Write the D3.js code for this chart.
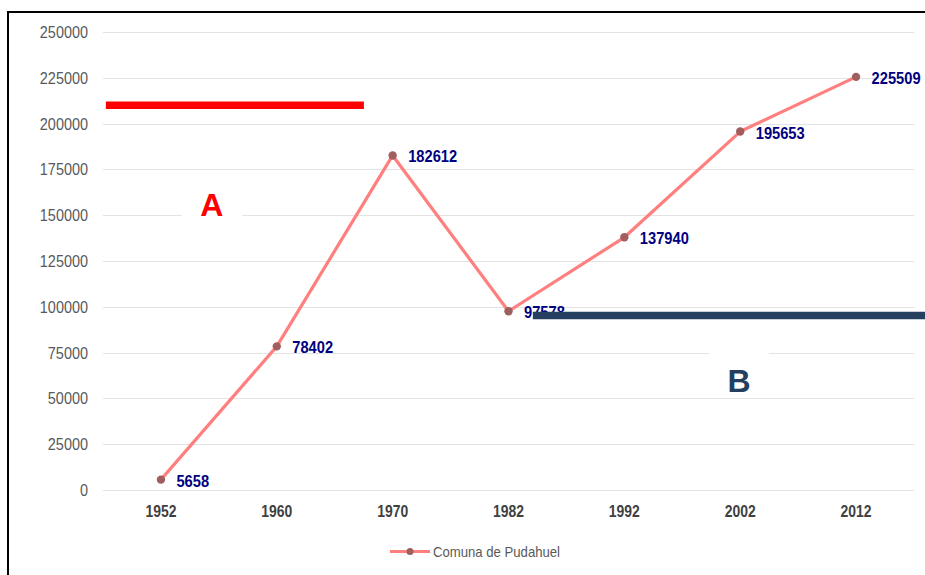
<!DOCTYPE html>
<html>
<head>
<meta charset="utf-8">
<script src="https://cdn.jsdelivr.net/npm/d3@7"></script>
<style>
  html, body { margin: 0; padding: 0; background: #fff; }
  svg { display: block; }
</style>
</head>
<body>
<svg id="chart" width="925" height="575"></svg>
<script>
// Census population of Comuna de Pudahuel
const years = ["1952", "1960", "1970", "1982", "1992", "2002", "2012"];
const population = [5658, 78402, 182612, 97578, 137940, 195653, 225509];
const yTicks = [0, 25000, 50000, 75000, 100000, 125000, 150000, 175000, 200000, 225000, 250000];
const seriesName = "Comuna de Pudahuel";

// Annotation bars: value level and span in category steps (0 = first census), plus letter position
const markA = { from: -0.475, to: 1.752, level: 210000, label: "A", labelAt: 0.44, labelLevel: 155000 };
const markB = { from: 3.21, to: 6.7, level: 95200, label: "B", labelAt: 4.99, labelLevel: 59000 };

(function draw() {
  const svg = d3.select("#chart");
  const W = 925, H = 575;
  const plotLeft = 103, plotRight = 914, plotTop = 32, plotBottom = 490;

  const x = d3.scaleBand().domain(years).range([plotLeft, plotRight]);
  const y = d3.scaleLinear().domain([0, 250000]).range([plotBottom, plotTop]);
  const cx = d => x(d) + x.bandwidth() / 2;

  // category-step scale for the annotation bars
  const stepPos = d3.scaleLinear().domain([0, 1]).range([cx(years[0]), cx(years[1])]);

  const sans = "'Liberation Sans', Arial, sans-serif";

  // frame
  svg.append("path")
    .attr("d", `M8,${H} V12 H${W}`)
    .attr("fill", "none").attr("stroke", "#000").attr("stroke-width", 2);

  // grid
  svg.append("g")
    .selectAll("line").data(yTicks).join("line")
    .attr("x1", plotLeft).attr("x2", plotRight)
    .attr("y1", d => Math.round(y(d)) + 0.5).attr("y2", d => Math.round(y(d)) + 0.5)
    .attr("stroke", "#e3e3e3").attr("stroke-width", 1);

  // y axis labels (condensed)
  const yAxis = d3.axisLeft(y).tickValues(yTicks).tickSize(0).tickPadding(0).tickFormat(d3.format("d"));
  svg.append("g").attr("transform", `translate(${plotLeft - 15},0)`).call(yAxis)
    .call(g => g.select(".domain").remove())
    .call(g => g.selectAll("text").attr("fill", "#595959").attr("font-family", sans)
      .attr("font-size", 17).attr("transform", "scale(0.85,1)"));

  // x axis labels (condensed, bold)
  const xAxis = d3.axisBottom(x).tickSize(0).tickPadding(0);
  svg.append("g").attr("transform", `translate(0,${plotBottom + 14.5})`).call(xAxis)
    .call(g => g.select(".domain").remove())
    .call(g => g.selectAll("text").attr("fill", "#404040").attr("font-family", sans)
      .attr("font-size", 17).attr("font-weight", "bold").attr("transform", "scale(0.82,1)"));

  // letter boxes
  function letter(m, color) {
    const px = stepPos(m.labelAt), py = y(m.labelLevel);
    svg.append("rect").attr("x", px - 30).attr("y", py - 30).attr("width", 60).attr("height", 45).attr("fill", "#fff");
    svg.append("text").attr("x", px).attr("y", py + 10).attr("text-anchor", "middle")
      .attr("font-family", sans).attr("font-weight", "bold")
      .attr("font-size", 32).attr("fill", color).text(m.label);
  }
  letter(markA, "#ff0000");
  letter(markB, "#243f60");

  // series line
  const pts = years.map((yr, i) => ({ yr, v: population[i] }));
  svg.append("path").datum(pts)
    .attr("d", d3.line().x(d => cx(d.yr)).y(d => y(d.v)))
    .attr("fill", "none").attr("stroke", "#ff7f7f").attr("stroke-width", 3.2).attr("stroke-linejoin", "round");

  svg.append("g").selectAll("circle").data(pts).join("circle")
    .attr("cx", d => cx(d.yr)).attr("cy", d => y(d.v)).attr("r", 4.2).attr("fill", "#a05e5e");

  // data labels (condensed, bold)
  svg.append("g").selectAll("g").data(pts).join("g")
    .attr("transform", d => `translate(${cx(d.yr) + 15.5},${y(d.v) + 7}) scale(0.89,1)`)
    .append("text")
    .attr("font-family", sans).attr("font-weight", "bold").attr("font-size", 16.5)
    .attr("fill", "#000080").text(d => d.v);

  // annotation bars
  svg.append("line").attr("x1", stepPos(markA.from)).attr("x2", stepPos(markA.to))
    .attr("y1", y(markA.level)).attr("y2", y(markA.level))
    .attr("stroke", "#ff0000").attr("stroke-width", 7.5);
  svg.append("line").attr("x1", stepPos(markB.from)).attr("x2", stepPos(markB.to))
    .attr("y1", y(markB.level)).attr("y2", y(markB.level))
    .attr("stroke", "#243f60").attr("stroke-width", 7.5);

  // legend
  const lg = svg.append("g").attr("transform", "translate(390,551.5)");
  lg.append("line").attr("x1", 0).attr("x2", 40).attr("stroke", "#ff7f7f").attr("stroke-width", 3);
  lg.append("circle").attr("cx", 20).attr("r", 3.5).attr("fill", "#a05e5e");
  lg.append("text").attr("x", 43).attr("y", 5.5).attr("font-family", sans).attr("font-size", 15)
    .attr("textLength", 127).attr("lengthAdjust", "spacingAndGlyphs")
    .attr("fill", "#595959").text(seriesName);
})();
</script>
</body>
</html>
